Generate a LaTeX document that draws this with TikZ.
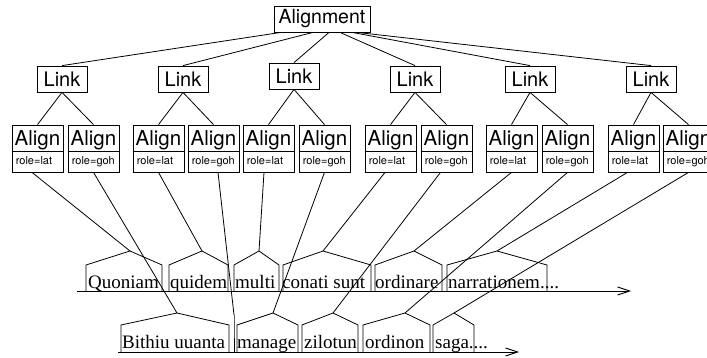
\documentclass[tikz,border=0pt]{standalone}
\usepackage{fontspec}
\setmainfont{Liberation Serif}
\newfontfamily\heros{TeX Gyre Heros}
\usetikzlibrary{arrows.meta,calc}

% tree boxes, role boxes and the word "houses" on the two text lines
\tikzset{
  every picture/.style={x=1pt,y=-1pt},
  tree/.style={line width=0.8pt},
  topbox/.style={draw,line width=0.8pt,inner sep=0pt,minimum width=96pt,minimum height=26pt,
    font=\heros\fontsize{19.5}{22}\selectfont},
  linkbox/.style={draw,line width=0.8pt,inner sep=0pt,minimum width=50pt,minimum height=26pt,
    font=\heros\fontsize{20}{22}\selectfont},
  abox/.style={draw,line width=0.8pt,inner sep=0pt,minimum width=51pt,minimum height=47pt},
  atext/.style={inner sep=0pt,anchor=base,font=\heros\fontsize{20.5}{22}\selectfont},
  rtext/.style={inner sep=0pt,anchor=base west,font=\heros\fontsize{11}{13}\selectfont},
  word/.style={inner sep=0pt,anchor=base west,font=\fontsize{19}{22}\selectfont},
  hut/.style={line width=0.8pt},
  timeline/.style={line width=0.9pt,-{Straight Barb[length=12pt,width=8pt]}},
}

% \alignbox{name}{center x}{role}
\newcommand\alignbox[3]{%
  \node[abox] (#1) at (#2,148.5) {};
  \draw[line width=0.8pt] ([yshift=-2.5pt]#1.west) -- ([yshift=-2.5pt]#1.east);
  \node[atext] (#1a) at ([yshift=2.5pt]#1.center) {Align};
  \node[rtext] (#1r) at ([xshift=4pt,yshift=-16.5pt]#1.west) {role=#3};
}

% \wordhut{name}{left}{right}{peak x}{base y}{shoulder y}{peak y}
\newcommand\wordhut[7]{%
  \coordinate (#1) at (#4,#7);
  \draw[hut] (#2,#5) -- (#2,#6) -- (#1) -- (#3,#6) -- (#3,#5);
}

\begin{document}
\begin{tikzpicture}
\useasboundingbox (0,0) rectangle (707,358);

% root and links
\node[topbox] (root) at (322,19) {Alignment};
\node[linkbox] (L1) at (62,79) {Link};
\node[linkbox] (L2) at (183,79) {Link};
\node[linkbox] (L3) at (294,76) {Link};
\node[linkbox] (L4) at (415,79) {Link};
\node[linkbox] (L5) at (530,79) {Link};
\node[linkbox] (L6) at (651,79) {Link};

\draw[tree] ([xshift=-41pt]root.south) -- (L1.north);
\draw[tree] ([xshift=-9pt]root.south) -- (L2.north);
\draw[tree] ([xshift=7pt]root.south) -- (L3.north);
\draw[tree] ([xshift=18pt]root.south) -- (L4.north);
\draw[tree] ([xshift=30pt]root.south) -- (L5.north);
\draw[tree] ([xshift=35pt]root.south) -- (L6.north);

% aligned tokens
\alignbox{b1}{37.5}{lat}
\alignbox{b2}{93.5}{goh}
\alignbox{b3}{158.5}{lat}
\alignbox{b4}{213.5}{goh}
\alignbox{b5}{268.5}{lat}
\alignbox{b6}{324.5}{goh}
\alignbox{b7}{390.5}{lat}
\alignbox{b8}{446.5}{goh}
\alignbox{b9}{511.5}{lat}
\alignbox{b10}{567.5}{goh}
\alignbox{b11}{633.5}{lat}
\alignbox{b12}{688.5}{goh}

\foreach \l/\a/\b in {L1/b1/b2,L2/b3/b4,L3/b5/b6,L4/b7/b8,L5/b9/b10,L6/b11/b12}{
  \draw[tree] (\l.south) -- (\a.north);
  \draw[tree] (\l.south) -- (\b.north);
}

% Latin line
\coordinate (lat0) at (77,291);
\coordinate (lat1) at (631,291);
\draw[timeline] (lat0) -- (lat1);
\node[word] (w1) at (88,288) {Quoniam};
\node[word] (w2) at (170,288) {quidem};
\node[word] (w3) at (235,288) {multi};
\node[word] (w4) at (282,288) {conati sunt};
\node[word] (w5) at (375,288) {ordinare};
\node[word] (w6) at (448,288) {narrationem....};
\wordhut{h1}{86}{162}{130}{291}{265}{251}
\wordhut{h2}{169}{228}{202}{291}{265}{251}
\wordhut{h3}{234}{279}{259}{291}{265}{251}
\wordhut{h4}{283}{371}{323}{291}{265}{251}
\wordhut{h5}{375}{442}{414}{291}{265}{251}
\wordhut{h6}{447}{547}{497}{291}{265}{251}

% Old High German line
\coordinate (goh0) at (118,352);
\coordinate (goh1) at (519,352);
\draw[timeline] (goh0) -- (goh1);
\node[word] (g1) at (122,348) {Bithiu uuanta};
\node[word] (g3) at (237,348) {manage};
\node[word] (g4) at (304,348) {zilotun};
\node[word] (g5) at (365,348) {ordinon};
\node[word] (g6) at (435,348) {saga....};
\wordhut{k1}{121}{229}{177}{352}{325}{313}
\wordhut{k2}{234}{234}{234}{352}{325}{315}
\wordhut{k3}{237}{298}{273}{352}{325}{313}
\wordhut{k4}{302}{358}{333}{352}{325}{313}
\wordhut{k5}{363}{430}{405}{352}{325}{313}
\wordhut{k6}{433}{474}{454}{352}{325}{313}

% token to word connectors
\draw[tree] ([xshift=-5.5pt]b1.south) -- (h1);
\draw[tree] (b2.south) -- (k1);
\draw[tree] (b3.south) -- (h2);
\draw[tree] ([xshift=4.5pt]b4.south) -- (k2);
\draw[tree] ([xshift=-4.5pt]b5.south) -- (h3);
\draw[tree] (b6.south) -- (k3);
\draw[tree] ([xshift=-5.5pt]b7.south) -- (h4);
\draw[tree] ([xshift=-6pt]b8.south) -- (k4);
\draw[tree] (b9.south) -- (h5);
\draw[tree] (b10.south) -- (k5);
\draw[tree] ([xshift=-6pt]b11.south) -- (h6);
\draw[tree] (b12.south) -- (k6);
\end{tikzpicture}
\end{document}
